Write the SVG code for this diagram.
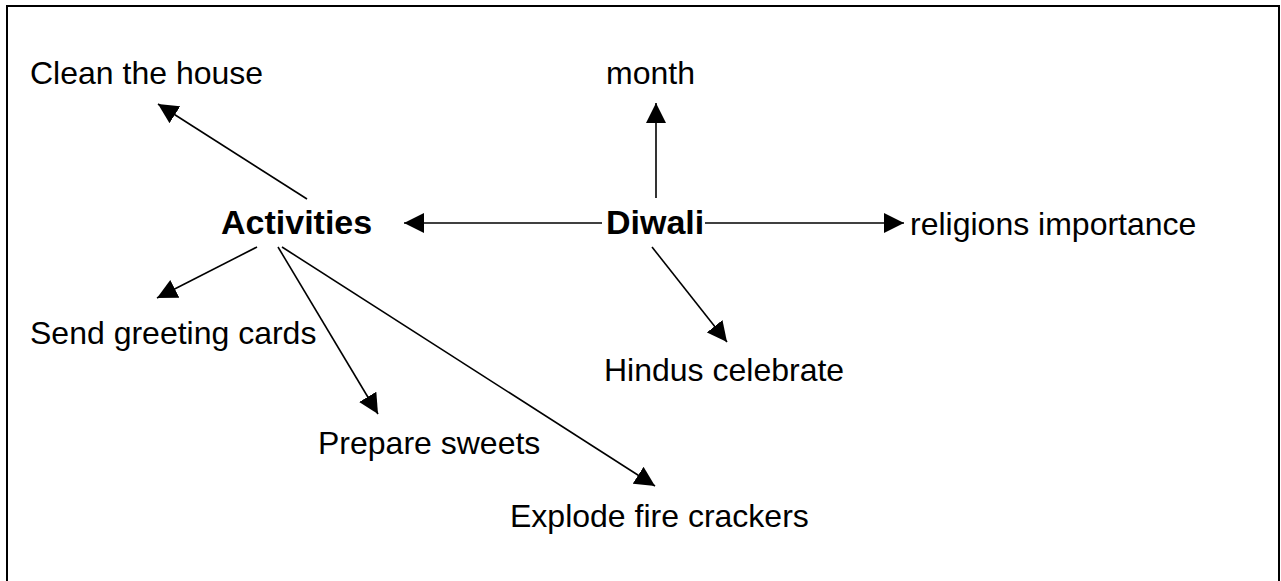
<svg xmlns="http://www.w3.org/2000/svg" width="1281" height="581" viewBox="0 0 1281 581">
<style>
.t{font-family:"Liberation Sans",Arial,sans-serif;font-size:32px;fill:#000}
.b{font-family:"Liberation Sans",Arial,sans-serif;font-size:34px;font-weight:bold;fill:#000}
.c line{stroke:#000;stroke-width:1.6;marker-end:url(#ah)}
</style>
<defs>
<marker id="ah" markerUnits="userSpaceOnUse" markerWidth="20" markerHeight="20" refX="20" refY="10" orient="auto" viewBox="0 0 20 20">
<path d="M0,0 L20,10 L0,20 z" fill="#000"/>
</marker>
</defs>
<rect width="1281" height="581" fill="#fff"/>
<rect x="7" y="6" width="1272" height="590" fill="none" stroke="#000" stroke-width="2"/>
<g class="c" id="connectors">
<line x1="307" y1="199" x2="158" y2="104"/>
<line x1="656" y1="198" x2="656" y2="103"/>
<line x1="602" y1="223" x2="404" y2="223"/>
<line x1="705" y1="223" x2="904" y2="223"/>
<line x1="652" y1="247" x2="727" y2="342"/>
<line x1="257" y1="247" x2="157" y2="298"/>
<line x1="278" y1="247" x2="378" y2="414"/>
<line x1="282" y1="247" x2="655" y2="486"/>
</g>
<g id="n-clean"><text class="t" x="30" y="84">Clean the house</text></g>
<g id="n-month"><text class="t" x="606" y="84">month</text></g>
<g id="n-activities"><text class="b" x="221" y="234">Activities</text></g>
<g id="n-diwali"><text class="b" x="606" y="234">Diwali</text></g>
<g id="n-religions"><text class="t" x="910" y="235">religions importance</text></g>
<g id="n-send"><text class="t" x="30" y="344">Send greeting cards</text></g>
<g id="n-hindus"><text class="t" x="604" y="381">Hindus celebrate</text></g>
<g id="n-prepare"><text class="t" x="318" y="454">Prepare sweets</text></g>
<g id="n-explode"><text class="t" x="510" y="527">Explode fire crackers</text></g>
</svg>
